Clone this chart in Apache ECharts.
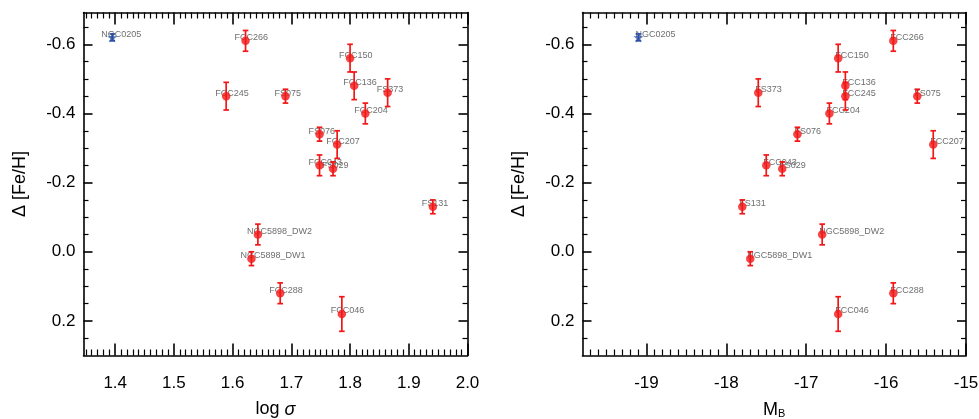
<!DOCTYPE html>
<html>
<head>
<meta charset="utf-8">
<script src="https://cdn.jsdelivr.net/npm/echarts@6/dist/echarts.min.js"></script>
<style>
html,body{margin:0;padding:0;background:#fff;}
#chart{width:979px;height:419px;}
</style>
</head>
<body>
<div id="chart"></div>
<script>
// ---- data ----
const names    = ['NGC0205','FCC266','FCC150','FCC245','FS075','FCC136','FS373','FCC204','FS076','FCC207','FCC043','FS029','FS131','NGC5898_DW2','NGC5898_DW1','FCC288','FCC046'];
const logSigma = [1.395, 1.622, 1.800, 1.589, 1.690, 1.807, 1.864, 1.826, 1.748, 1.778, 1.748, 1.771, 1.941, 1.643, 1.632, 1.681, 1.786];
const MB       = [-19.10, -15.91, -16.60, -16.51, -15.61, -16.51, -17.60, -16.71, -17.11, -15.41, -17.50, -17.30, -17.80, -16.80, -17.70, -15.91, -16.60];
const dFeH     = [-0.62, -0.61, -0.56, -0.45, -0.45, -0.48, -0.46, -0.40, -0.34, -0.31, -0.25, -0.24, -0.13, -0.05, 0.02, 0.12, 0.18];
const dFeHErr  = [0.01, 0.03, 0.04, 0.04, 0.02, 0.04, 0.04, 0.03, 0.02, 0.04, 0.03, 0.02, 0.02, 0.03, 0.02, 0.03, 0.05];
const isBlue   = [true, false, false, false, false, false, false, false, false, false, false, false, false, false, false, false, false];

const xTicksLogSigma = [1.4, 1.5, 1.6, 1.7, 1.8, 1.9, 2.0];
const xTicksMB       = [-19, -18, -17, -16, -15];
const yTicks         = [-0.6, -0.4, -0.2, 0.0, 0.2];

// minor tick positions
const xMinorLogSigma = [];
for (let i = 135; i < 200; i++) if (i % 10 !== 0) xMinorLogSigma.push(i / 100);
const xMinorMB = [];
for (let i = -197; i < -150; i++) if (i % 10 !== 0) xMinorMB.push(i / 10);
const yMinor = [];
for (let k = -13; k <= 5; k++) if (k % 4 !== 0) yMinor.push(Math.round(k * 5) / 100);

// ---- styling ----
const RED = '#f21616';
const BLUE = '#2b4ea6';
const FONT = 'Liberation Sans, Arial, Helvetica, sans-serif';
const STAR = 'path://M50,0 L61,35 L98,35 L68,57 L79,91 L50,70 L21,91 L32,57 L2,35 L39,35 Z';

const xRange = [[1.346, 2.0], [-19.8, -15.0]];
const yRange = [-0.692, 0.30];
const xMajor = [xTicksLogSigma, xTicksMB];
const xMinor = [xMinorLogSigma, xMinorMB];
const xNames = ['{n|log }{i|σ}', '{n|M}{s|B}'];
const xFmt = [v => v.toFixed(1), v => String(Math.round(v))];
const labelOffset = [[-11, -3], [-3, -3]];

const grids = [
  {left: 83.5, right: 511.5, top: 12.5, bottom: 63.5, outerBoundsMode: 'none', containLabel: false},
  {left: 582.5, right: 13, top: 12.5, bottom: 63.5, outerBoundsMode: 'none', containLabel: false}
];

const xAxes = [], yAxes = [], series = [];
const lineStyle = {color: '#000', width: 1.6};

for (let g = 0; g < 2; g++) {
  const base = g * 4;
  // bottom major
  xAxes.push({
    gridIndex: g, type: 'value', position: 'bottom', min: xRange[g][0], max: xRange[g][1],
    axisLine: {show: true, onZero: false, lineStyle},
    axisTick: {show: true, inside: true, length: 12, lineStyle, customValues: xMajor[g]},
    axisLabel: {show: true, margin: 19, fontSize: 17, color: '#000', fontFamily: FONT, customValues: xMajor[g], formatter: xFmt[g], showMinLabel: true, showMaxLabel: true},
    splitLine: {show: false},
    name: xNames[g], nameLocation: 'middle', nameGap: 45,
    nameTextStyle: {
      fontFamily: FONT, color: '#000',
      rich: {
        n: {fontSize: 18, fontFamily: FONT, color: '#000'},
        i: {fontSize: 18, fontStyle: 'italic', fontFamily: FONT, color: '#000'},
        s: {fontSize: 11, fontFamily: FONT, color: '#000', verticalAlign: 'bottom', padding: [8, 0, 0, 0]}
      }
    }
  });
  // bottom minor
  xAxes.push({
    gridIndex: g, type: 'value', position: 'bottom', min: xRange[g][0], max: xRange[g][1],
    axisLine: {show: false, onZero: false},
    axisTick: {show: true, inside: true, length: 6, lineStyle: {color: '#000', width: 1.2}, customValues: xMinor[g]},
    axisLabel: {show: false}, splitLine: {show: false}
  });
  // top major
  xAxes.push({
    gridIndex: g, type: 'value', position: 'top', min: xRange[g][0], max: xRange[g][1],
    axisLine: {show: true, onZero: false, lineStyle},
    axisTick: {show: true, inside: true, length: 12, lineStyle, customValues: xMajor[g]},
    axisLabel: {show: false}, splitLine: {show: false}
  });
  // top minor
  xAxes.push({
    gridIndex: g, type: 'value', position: 'top', min: xRange[g][0], max: xRange[g][1],
    axisLine: {show: false, onZero: false},
    axisTick: {show: true, inside: true, length: 6, lineStyle: {color: '#000', width: 1.2}, customValues: xMinor[g]},
    axisLabel: {show: false}, splitLine: {show: false}
  });

  // left major
  yAxes.push({
    gridIndex: g, type: 'value', position: 'left', inverse: true, min: yRange[0], max: yRange[1],
    axisLine: {show: true, onZero: false, lineStyle},
    axisTick: {show: true, inside: true, length: 9, lineStyle, customValues: yTicks},
    axisLabel: {show: true, margin: 8, fontSize: 17, color: '#000', fontFamily: FONT, customValues: yTicks, formatter: v => v.toFixed(1)},
    splitLine: {show: false},
    name: 'Δ [Fe/H]', nameLocation: 'middle', nameGap: 54, nameRotate: 90,
    nameTextStyle: {fontSize: 18, color: '#000', fontFamily: FONT}
  });
  // left minor
  yAxes.push({
    gridIndex: g, type: 'value', position: 'left', inverse: true, min: yRange[0], max: yRange[1],
    axisLine: {show: false, onZero: false},
    axisTick: {show: true, inside: true, length: 5, lineStyle: {color: '#000', width: 1.2}, customValues: yMinor},
    axisLabel: {show: false}, splitLine: {show: false}
  });
  // right major
  yAxes.push({
    gridIndex: g, type: 'value', position: 'right', inverse: true, min: yRange[0], max: yRange[1],
    axisLine: {show: true, onZero: false, lineStyle},
    axisTick: {show: true, inside: true, length: 9, lineStyle, customValues: yTicks},
    axisLabel: {show: false}, splitLine: {show: false}
  });
  // right minor
  yAxes.push({
    gridIndex: g, type: 'value', position: 'right', inverse: true, min: yRange[0], max: yRange[1],
    axisLine: {show: false, onZero: false},
    axisTick: {show: true, inside: true, length: 5, lineStyle: {color: '#000', width: 1.2}, customValues: yMinor},
    axisLabel: {show: false}, splitLine: {show: false}
  });

  const xs = g === 0 ? logSigma : MB;
  const pts = names.map((n, i) => ({name: n, value: [xs[i], dFeH[i], dFeHErr[i]], blue: isBlue[i]}));

  // labels (drawn under markers)
  series.push({
    type: 'scatter', xAxisIndex: base, yAxisIndex: base, z: 1, silent: true,
    symbolSize: 8, itemStyle: {color: 'rgba(0,0,0,0)'},
    data: pts.map(p => ({name: p.name, value: [p.value[0], p.value[1]]})),
    label: {
      show: true, position: 'inside', align: 'left', verticalAlign: 'middle',
      offset: labelOffset[g], formatter: '{b}', fontSize: 9, color: '#484848', fontFamily: FONT
    }
  });
  // error bars
  series.push({
    type: 'custom', xAxisIndex: base, yAxisIndex: base, z: 2, silent: true,
    data: pts.map(p => ({value: p.value, itemStyle: {color: p.blue ? BLUE : RED}})),
    renderItem: function (params, api) {
      const x = api.value(0), y = api.value(1), e = api.value(2);
      const a = api.coord([x, y - e]);
      const b = api.coord([x, y + e]);
      const c = api.visual('color');
      const hw = 2.8;
      const st = {stroke: c, lineWidth: 1.7};
      return {
        type: 'group',
        children: [
          {type: 'line', shape: {x1: a[0], y1: a[1], x2: b[0], y2: b[1]}, style: st},
          {type: 'line', shape: {x1: a[0] - hw, y1: a[1], x2: a[0] + hw, y2: a[1]}, style: st},
          {type: 'line', shape: {x1: b[0] - hw, y1: b[1], x2: b[0] + hw, y2: b[1]}, style: st}
        ]
      };
    }
  });
  // red markers
  series.push({
    type: 'scatter', xAxisIndex: base, yAxisIndex: base, z: 3, silent: true,
    symbol: 'circle', symbolSize: 8.5, itemStyle: {color: RED},
    data: pts.filter(p => !p.blue).map(p => [p.value[0], p.value[1]])
  });
  // blue star
  series.push({
    type: 'scatter', xAxisIndex: base, yAxisIndex: base, z: 3, silent: true,
    symbol: STAR, symbolSize: 10, itemStyle: {color: BLUE},
    data: pts.filter(p => p.blue).map(p => [p.value[0], p.value[1]])
  });
}

const chart = echarts.init(document.getElementById('chart'), null, {renderer: 'canvas'});
chart.setOption({
  animation: false,
  backgroundColor: '#fff',
  grid: grids,
  xAxis: xAxes,
  yAxis: yAxes,
  series: series
});
</script>
</body>
</html>
